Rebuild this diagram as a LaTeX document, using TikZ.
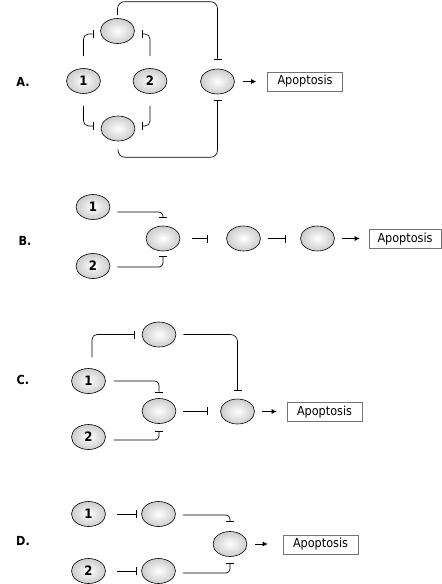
\documentclass[tikz,border=0pt]{standalone}
\usepackage{fontspec}
\setmainfont{DejaVu Sans Condensed}
\usetikzlibrary{shapes.geometric,arrows.meta}
\begin{document}
\begin{tikzpicture}[x=1pt,y=-1pt,
  cell/.style={ellipse,draw=black,line width=0.6pt,inner color=white,outer color=black!20,
    minimum width=34pt,minimum height=25pt,inner sep=0pt,font=\fontsize{13}{15}\selectfont\bfseries},
  apo/.style={draw=black!55,line width=0.6pt,minimum width=75pt,minimum height=19pt,inner sep=0pt,
    font=\fontsize{12.5}{14}\selectfont},
  plabel/.style={font=\fontsize{12.5}{14}\selectfont\bfseries},
  inh/.style={draw=black,line width=0.65pt,-{Bar[width=8pt,line width=0.65pt]},rounded corners=5pt},
  act/.style={draw=black,line width=0.65pt,-{Latex[length=5pt,width=5pt]}}]
\useasboundingbox (0,0) rectangle (442,584);

% ---------- Panel A ----------
\node[plabel] (lblA) at (23,82) {A.};
\node[cell] (A1) at (83.5,81) {1};
\node[cell] (A2) at (150,81) {2};
\node[cell] (Atop) at (117.5,31) {};
\node[cell] (Abot) at (118,128.5) {};
\node[cell] (Ar) at (217.5,81.5) {};
\node[apo] (Aapo) at (305,81.5) {Apoptosis};

\draw[inh] ([yshift=12pt]A1.north) |- ([shift={(-7pt,-3pt)}]Atop.west);
\draw[inh] ([yshift=12pt]A2.north) |- ([shift={(7pt,-3pt)}]Atop.east);
\draw[inh] ([yshift=-12pt]A1.south) |- ([shift={(-7pt,2.5pt)}]Abot.west);
\draw[inh] ([yshift=-12pt]A2.south) |- ([shift={(7pt,2.5pt)}]Abot.east);
\draw[inh,rounded corners=7pt] ([yshift=3pt]Atop.north) -- ++(0pt,13.5pt) -| ([yshift=9.5pt]Ar.north);
\draw[inh,rounded corners=7pt] ([yshift=-8pt]Abot.south) -- ++(0pt,-8pt) -| ([yshift=-5.5pt]Ar.south);
\draw[act] ([xshift=8pt]Ar.east) -- ([xshift=-11pt]Aapo.west);

% ---------- Panel B ----------
\node[plabel] (lblB) at (25,241) {B.};
\node[cell] (B1) at (93,207) {1};
\node[cell] (B2) at (93,266) {2};
\node[cell] (Bm) at (163,238.5) {};
\node[cell] (Bc) at (243.5,238.5) {};
\node[cell] (Br) at (317.5,238.5) {};
\node[apo,minimum width=72pt] (Bapo) at (405,239) {Apoptosis};

\draw[inh,rounded corners=4pt] ([shift={(7pt,-5pt)}]B1.east) -| ([yshift=8pt]Bm.north);
\draw[inh,rounded corners=4pt] ([shift={(7pt,-1pt)}]B2.east) -| ([yshift=-5pt]Bm.south);
\draw[inh] ([xshift=12pt]Bm.east) -- ([xshift=-19pt]Bc.west);
\draw[inh] ([xshift=7pt]Bc.east) -- ([xshift=-15pt]Br.west);
\draw[act] ([xshift=7pt]Br.east) -- ([xshift=-9pt]Br.east -| Bapo.west);

% ---------- Panel C ----------
\node[plabel] (lblC) at (23,380) {C.};
\node[cell] (C1) at (88.5,381) {1};
\node[cell] (C2) at (88.5,437) {2};
\node[cell] (Ctop) at (159,334.5) {};
\node[cell] (Cm) at (159,411) {};
\node[cell] (Cr) at (237.5,411.5) {};
\node[apo] (Capo) at (324.5,412) {Apoptosis};

\draw[inh] ([shift={(3.5pt,11pt)}]C1.north) |- ([xshift=-7pt]Ctop.west);
\draw[inh,rounded corners=7pt] ([xshift=7pt]Ctop.east) -| ([yshift=8pt]Cr.north);
\draw[inh,rounded corners=4pt] ([xshift=8pt]C1.east) -| ([yshift=6pt]Cm.north);
\draw[inh,rounded corners=4pt] ([shift={(8pt,-3pt)}]C2.east) -| ([yshift=-7pt]Cm.south);
\draw[inh] ([xshift=7pt]Cm.east) -- ([xshift=-13pt]Cm.east -| Cr.west);
\draw[act] ([xshift=7.5pt]Cr.east) -- ([xshift=-10pt]Cr.east -| Capo.west);

% ---------- Panel D ----------
\node[plabel] (lblD) at (23,541) {D.};
\node[cell] (D1) at (88.5,514) {1};
\node[cell] (D2) at (88.5,571) {2};
\node[cell] (Dt) at (158.5,514) {};
\node[cell] (Db) at (158.5,571) {};
\node[cell] (Dm) at (230,544) {};
\node[apo] (Dapo) at (320.5,544.5) {Apoptosis};

\draw[inh] ([xshift=11.5pt]D1.east) -- ([xshift=-4.5pt]Dt.west);
\draw[inh] ([xshift=11.5pt]D2.east) -- ([xshift=-4.5pt]Db.west);
\draw[inh,rounded corners=4pt] ([shift={(7pt,-1pt)}]Dt.east) -| ([yshift=9.5pt]Dm.north);
\draw[inh,rounded corners=4pt] ([shift={(7pt,-2pt)}]Db.east) -| ([yshift=-6.5pt]Dm.south);
\draw[act] ([xshift=8pt]Dm.east) -- ([xshift=-15pt]Dm.east -| Dapo.west);
\end{tikzpicture}
\end{document}
